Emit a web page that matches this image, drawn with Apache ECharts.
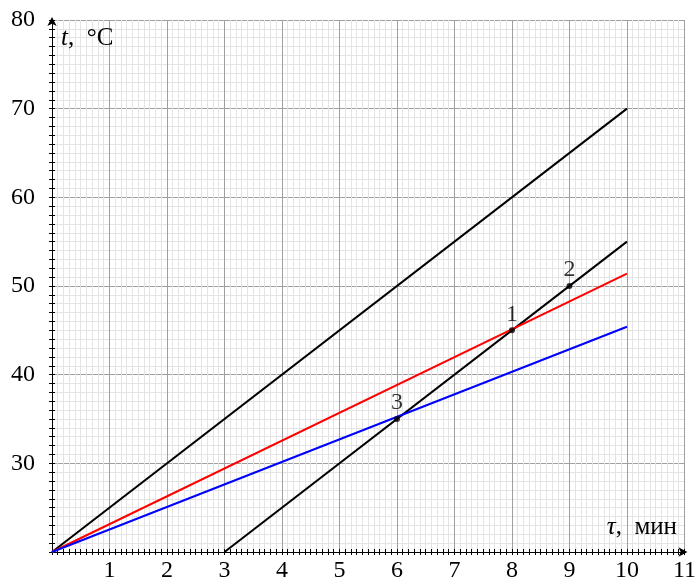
<!DOCTYPE html>
<html><head><meta charset="utf-8">
<script src="https://cdn.jsdelivr.net/npm/echarts@6/dist/echarts.min.js"></script>
<style>html,body{margin:0;padding:0;background:#fff}#c{width:699px;height:585px}</style>
</head><body><div id="c"></div>
<script>
// Data
const lineA = [[0, 20], [10, 70]];        // black, steep from origin
const lineB = [[3, 20], [10, 55]];        // black, shifted
const lineRed = [[0, 20], [10, 51.4]];
const lineBlue = [[0, 20], [10, 45.4]];
const points = [[8, 45, '1'], [9, 50, '2'], [6, 35, '3']];
const xTicks = [0, 1, 2, 3, 4, 5, 6, 7, 8, 9, 10, 11];
const yTicks = [20, 30, 40, 50, 60, 70, 80];

const FONT = 'Liberation Serif';
const chart = echarts.init(document.getElementById('c'), null, {renderer: 'canvas'});

function xAxisCfg(inside, show) {
  return {
    type: 'value', min: 0, max: 11, interval: 1, position: 'bottom',
    axisLine: {show: true, onZero: false, lineStyle: {color: '#000', width: 1},
      symbol: show ? ['none', 'arrow'] : 'none', symbolSize: [7, 9], symbolOffset: [0, 3]},
    axisTick: {show: true, inside: inside, length: 3, lineStyle: {color: '#000'}},
    minorTick: {show: true, splitNumber: 10, length: 3, lineStyle: {color: '#000'}},
    axisLabel: {show: show, margin: 7, fontFamily: FONT, fontSize: 24, color: '#000',
      formatter: v => (v === 0 ? '' : String(v))},
    splitLine: {show: show, lineStyle: {color: '#a0a0a0', width: 1}},
    minorSplitLine: {show: show, lineStyle: {color: '#e4e4e4', width: 1}}
  };
}
function yAxisCfg(inside, show) {
  return {
    type: 'value', min: 20, max: 80, interval: 10, position: 'left',
    axisLine: {show: true, onZero: false, lineStyle: {color: '#000', width: 1},
      symbol: show ? ['none', 'arrow'] : 'none', symbolSize: [7, 9], symbolOffset: [0, 3]},
    axisTick: {show: true, inside: inside, length: 3, lineStyle: {color: '#000'}},
    minorTick: {show: true, splitNumber: 10, length: 3, lineStyle: {color: '#000'}},
    axisLabel: {show: show, margin: 17, fontFamily: FONT, fontSize: 24, color: '#000',
      formatter: v => (v === 20 ? '' : String(v))},
    splitLine: {show: show, lineStyle: {color: '#a0a0a0', width: 1}},
    minorSplitLine: {show: show, lineStyle: {color: '#e4e4e4', width: 1}}
  };
}

function lineSeries(data, color) {
  return {type: 'line', data: data, xAxisIndex: 0, yAxisIndex: 0, showSymbol: false,
    symbol: 'none', lineStyle: {color: color, width: 2}, silent: true, z: 3, animation: false};
}

chart.setOption({
  animation: false,
  grid: {left: 52, right: 11, top: 20, bottom: 33},
  xAxis: [xAxisCfg(false, true), xAxisCfg(true, false)],
  yAxis: [yAxisCfg(false, true), yAxisCfg(true, false)],
  series: [
    lineSeries(lineA, '#000000'),
    lineSeries(lineB, '#000000'),
    lineSeries(lineRed, '#ff0000'),
    lineSeries(lineBlue, '#0000ff'),
    {type: 'scatter', data: points, symbol: 'circle', symbolSize: 6, z: 5,
      itemStyle: {color: '#000'},
      label: {show: true, position: 'top', distance: 1, fontFamily: FONT, fontSize: 24, color: '#000',
        formatter: p => p.data[2]}}
  ],
  graphic: [
    {type: 'text', left: 61, top: 26, z: 10, style: {
      text: '{i|t}{n|,  °C}', fill: '#000', fontFamily: FONT, fontSize: 25,
      rich: {i: {fontFamily: FONT, fontStyle: 'italic', fontSize: 25, fill: '#000'},
             n: {fontFamily: FONT, fontSize: 25, fill: '#000'}}}},
    {type: 'text', right: 22, top: 515, z: 10, style: {
      text: '{i|τ}{n|,  мин}', fill: '#000', fontFamily: FONT, fontSize: 25,
      rich: {i: {fontFamily: FONT, fontStyle: 'italic', fontSize: 25, fill: '#000'},
             n: {fontFamily: FONT, fontSize: 25, fill: '#000'}}}}
  ]
});
</script>
</body></html>
